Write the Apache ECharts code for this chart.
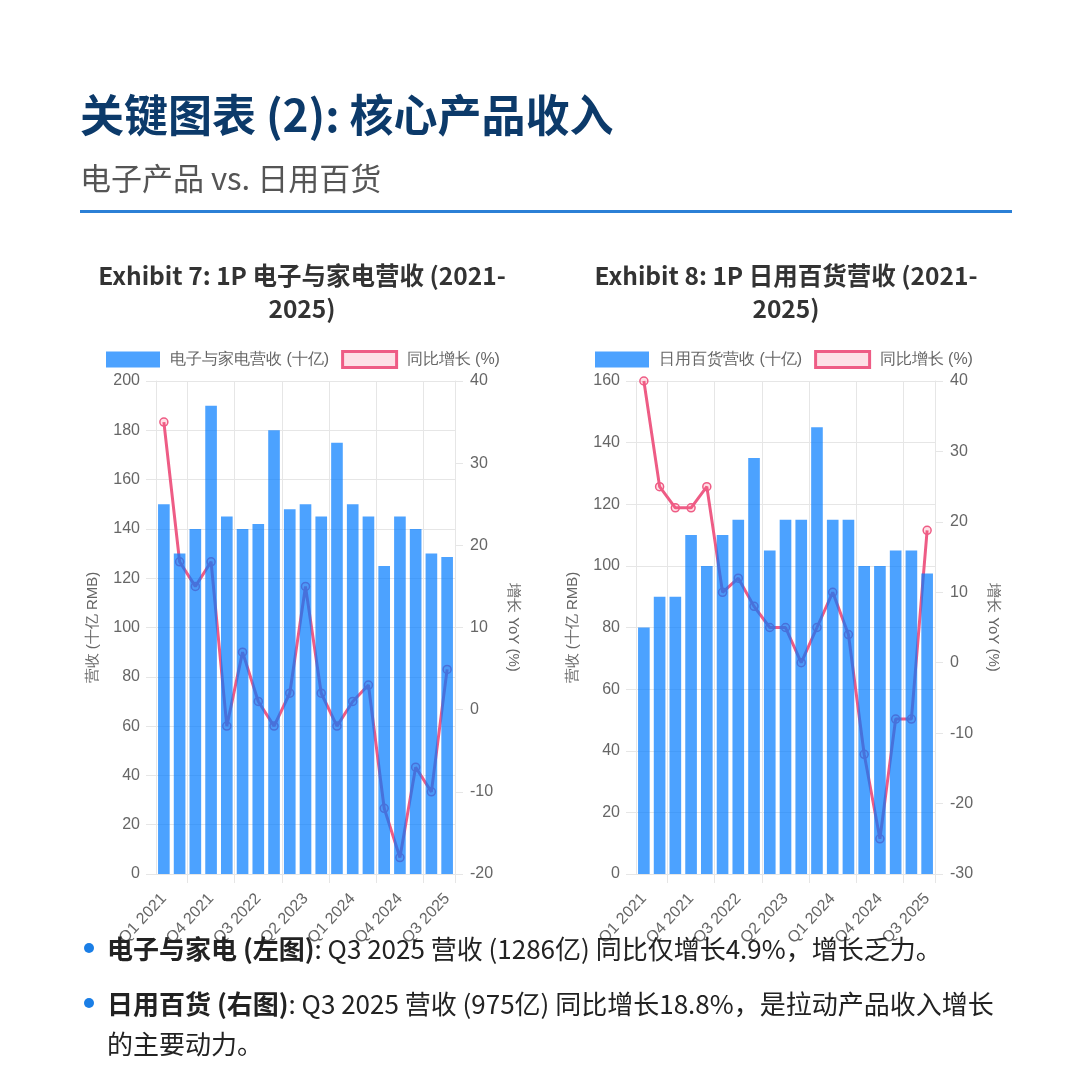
<!DOCTYPE html>
<html>
<head>
<meta charset="utf-8">
<title>关键图表 (2): 核心产品收入</title>
<script src="https://cdn.jsdelivr.net/npm/echarts@6/dist/echarts.min.js"></script>
<style>
    body { margin: 0; background: #fff; font-family: "Noto Sans CJK SC", "Noto Sans", sans-serif; }
    #page { position: relative; width: 1090px; height: 1080px; overflow: hidden; }
    #chart { position: absolute; left: 0; top: 0; width: 1090px; height: 1080px; z-index: 1; }
    .head { position: absolute; left: 80px; top: 84px; margin: 0; font-size: 44px; line-height: 58px; font-weight: bold; color: #0c3a6a; z-index: 2; }
    .sub { position: absolute; left: 80px; top: 156px; font-size: 31px; line-height: 42px; color: #555; z-index: 2; }
    .rule { position: absolute; left: 80px; top: 210px; width: 932px; height: 3px; background: #2b80d6; z-index: 2; }
    .ctitle { position: absolute; top: 258px; width: 444px; text-align: center; font-size: 24.5px; line-height: 33px; font-weight: bold; color: #333; z-index: 2; }
    .notes { position: absolute; left: 80px; top: 928px; width: 960px; font-size: 26px; line-height: 40px; color: #222; z-index: 2; white-space: nowrap; }
    .notes div { position: relative; padding-left: 27px; }
    .notes div:before { content: ""; position: absolute; left: 4px; top: 15px; width: 10px; height: 10px; border-radius: 50%; background: #1a7ee6; }
    .notes div + div { margin-top: 15px; }
</style>
</head>
<body>
<div id="page">
    <div class="head">关键图表 (2): 核心产品收入</div>
    <div class="sub">电子产品 vs. 日用百货</div>
    <div class="rule"></div>
    <div class="ctitle" style="left:80px">Exhibit 7: 1P 电子与家电营收 (2021-<br>2025)</div>
    <div class="ctitle" style="left:564px">Exhibit 8: 1P 日用百货营收 (2021-<br>2025)</div>
    <div id="chart"></div>
    <div class="notes">
        <div><b>电子与家电 (左图)</b>: Q3 2025 营收 (1286亿) 同比仅增长4.9%，增长乏力。</div>
        <div><b>日用百货 (右图)</b>: Q3 2025 营收 (975亿) 同比增长18.8%，是拉动产品收入增长<br>的主要动力。</div>
    </div>
</div>
<script>
// 季度
var quarters = ['Q1 2021', 'Q2 2021', 'Q3 2021', 'Q4 2021',
    'Q1 2022', 'Q2 2022', 'Q3 2022', 'Q4 2022',
    'Q1 2023', 'Q2 2023', 'Q3 2023', 'Q4 2023',
    'Q1 2024', 'Q2 2024', 'Q3 2024', 'Q4 2024',
    'Q1 2025', 'Q2 2025', 'Q3 2025'];

// 电子与家电营收 (十亿) / 同比 (%)
var elecRev = [150, 130, 140, 190, 145, 140, 142, 180, 148, 150, 145, 175, 150, 145, 125, 145, 140, 130, 128.6];
var elecYoy = [35, 18, 15, 18, -2, 7, 1, -2, 2, 15, 2, -2, 1, 3, -12, -18, -7, -10, 4.9];

// 日用百货营收 (十亿) / 同比 (%)
var dailyRev = [80, 90, 90, 110, 100, 110, 115, 135, 105, 115, 115, 145, 115, 115, 100, 100, 105, 105, 97.5];
var dailyYoy = [40, 25, 22, 22, 25, 10, 12, 8, 5, 5, 0, 5, 10, 4, -13, -25, -8, -8, 18.8];

var BLUE = 'rgba(0, 123, 255, 0.7)';
var PINK = '#ee5c85';
var GRID = '#e6e6e6';
var TXT = '#666';

var myChart = echarts.init(document.getElementById('chart'));

function xAxis(idx) {
    var every3 = function(i) { return i % 3 === 2; };
    return {
        type: 'category',
        gridIndex: idx,
        data: quarters,
        boundaryGap: true,
        axisLine: { lineStyle: { color: GRID } },
        axisTick: { show: true, interval: every3, length: 9, lineStyle: { color: GRID } },
        splitLine: { show: true, interval: every3, lineStyle: { color: GRID } },
        axisLabel: { interval: 2, rotate: 47, margin: 22, color: TXT, fontSize: 16 }
    };
}

function leftAxis(idx, max) {
    return {
        type: 'value',
        gridIndex: idx,
        position: 'left',
        min: 0,
        max: max,
        interval: 20,
        name: '营收 (十亿 RMB)',
        nameLocation: 'middle',
        nameGap: 56,
        nameRotate: 90,
        nameTextStyle: { color: TXT, fontSize: 15 },
        axisLine: { show: true, lineStyle: { color: GRID } },
        axisTick: { show: true, length: 10, lineStyle: { color: GRID } },
        splitLine: { lineStyle: { color: GRID } },
        axisLabel: { color: TXT, fontSize: 16, margin: 16 }
    };
}

function rightAxis(idx, min) {
    return {
        type: 'value',
        gridIndex: idx,
        position: 'right',
        min: min,
        max: 40,
        interval: 10,
        name: '增长 YoY (%)',
        nameLocation: 'middle',
        nameGap: 51,
        nameRotate: -90,
        nameTextStyle: { color: TXT, fontSize: 15 },
        axisLine: { show: true, lineStyle: { color: GRID } },
        axisTick: { show: true, length: 8, lineStyle: { color: GRID } },
        splitLine: { show: false },
        axisLabel: { color: TXT, fontSize: 16, margin: 15 }
    };
}

function barSeries(name, x, y, data) {
    return {
        name: name,
        type: 'bar',
        xAxisIndex: x,
        yAxisIndex: y,
        data: data,
        barCategoryGap: '26%',
        itemStyle: { color: BLUE },
        z: 3
    };
}

function lineSeries(name, x, y, data) {
    return {
        name: name,
        type: 'line',
        xAxisIndex: x,
        yAxisIndex: y,
        data: data,
        symbol: 'circle',
        symbolSize: 8,
        lineStyle: { color: PINK, width: 3 },
        itemStyle: { color: 'rgba(255, 99, 132, 0.2)', borderColor: PINK, borderWidth: 1.5 },
        z: 2
    };
}

function legend(left, barName) {
    return {
        left: left,
        top: 350,
        padding: 0,
        itemGap: 12,
        itemWidth: 54,
        itemHeight: 16,
        textStyle: { color: TXT, fontSize: 16, padding: [0, 0, 0, 5] },
        data: [
            { name: barName, icon: 'rect' },
            { name: '同比增长 (%)', icon: 'rect', itemStyle: { color: '#fde0e6', borderColor: PINK, borderWidth: 3 } }
        ]
    };
}

var option = {
    animation: false,
    legend: [legend(106, '电子与家电营收 (十亿)'), legend(595, '日用百货营收 (十亿)')],
    grid: [
        { left: 156, top: 381, width: 299, height: 493 },
        { left: 636, top: 381, width: 299, height: 493 }
    ],
    xAxis: [xAxis(0), xAxis(1)],
    yAxis: [leftAxis(0, 200), rightAxis(0, -20), leftAxis(1, 160), rightAxis(1, -30)],
    series: [
        barSeries('电子与家电营收 (十亿)', 0, 0, elecRev),
        lineSeries('同比增长 (%)', 0, 1, elecYoy),
        barSeries('日用百货营收 (十亿)', 1, 2, dailyRev),
        lineSeries('同比增长 (%)', 1, 3, dailyYoy)
    ]
};

myChart.setOption(option);
</script>
</body>
</html>
